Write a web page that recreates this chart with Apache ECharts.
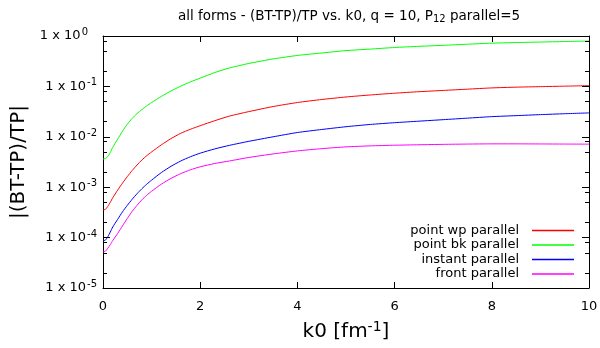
<!DOCTYPE html>
<html><head><meta charset="utf-8">
<script src="https://cdn.jsdelivr.net/npm/echarts@6/dist/echarts.min.js"></script>
<style>html,body{margin:0;padding:0;background:#fff}#c{width:600px;height:348px}</style>
</head><body><div id="c"></div>
<script>
// k0 sample positions and log10 of |(BT-TP)/TP|
const k0 = [0, 0.05, 0.1, 0.15, 0.2, 0.3, 0.4, 0.5, 0.6, 0.7, 0.8, 0.9, 1.0, 1.2, 1.4, 1.6, 1.8, 2.0, 2.3, 2.6, 3.0, 3.5, 4.0, 4.5, 5.0, 5.5, 6.0, 6.5, 7.0, 7.5, 8.0, 8.5, 9.0, 9.5, 10];
const pointWpLog10 = [-3.45, -3.44, -3.38, -3.30, -3.21, -3.06, -2.92, -2.79, -2.67, -2.56, -2.46, -2.375, -2.30, -2.16, -2.035, -1.93, -1.85, -1.78, -1.68, -1.59, -1.50, -1.40, -1.32, -1.26, -1.21, -1.17, -1.135, -1.105, -1.08, -1.055, -1.03, -1.015, -1.005, -0.995, -0.985];
const pointBkLog10 = [-2.44, -2.43, -2.39, -2.31, -2.21, -2.05, -1.89, -1.75, -1.635, -1.54, -1.46, -1.385, -1.32, -1.20, -1.09, -0.995, -0.91, -0.835, -0.725, -0.635, -0.545, -0.455, -0.386, -0.337, -0.29, -0.26, -0.228, -0.205, -0.185, -0.163, -0.142, -0.13, -0.12, -0.11, -0.10];
const instantLog10 = [-4.06, -4.05, -3.98, -3.89, -3.79, -3.64, -3.49, -3.36, -3.24, -3.13, -3.03, -2.94, -2.86, -2.71, -2.585, -2.48, -2.395, -2.325, -2.24, -2.17, -2.09, -2.0, -1.915, -1.855, -1.80, -1.755, -1.72, -1.69, -1.66, -1.63, -1.60, -1.58, -1.56, -1.542, -1.526];
const frontLog10 = [-4.28, -4.27, -4.21, -4.14, -4.06, -3.92, -3.77, -3.62, -3.48, -3.36, -3.25, -3.16, -3.08, -2.94, -2.825, -2.73, -2.655, -2.595, -2.53, -2.48, -2.41, -2.34, -2.28, -2.235, -2.20, -2.18, -2.167, -2.158, -2.15, -2.144, -2.14, -2.14, -2.142, -2.144, -2.146];
const seriesNames = ['point wp parallel', 'point bk parallel', 'instant parallel', 'front parallel'];
const seriesColors = ['#ff0000', '#00ff00', '#0000ff', '#ff00ff'];
const xTicks = [0, 2, 4, 6, 8, 10];
const yMajor = [1e-5, 1e-4, 1e-3, 1e-2, 1e-1, 1];
const yMinor = [2e-5, 5e-5, 8e-5, 2e-4, 5e-4, 8e-4, 2e-3, 5e-3, 8e-3, 2e-2, 5e-2, 8e-2, 2e-1, 5e-1, 8e-1];

const FONT = 'DejaVu Sans';
const BLACK = '#000';
const X_MIN = 0, X_MAX = 10, Y_MIN = 1e-5, Y_MAX = 1;
// tick lengths expressed in data units (about 7px / 4px horizontally, 6px vertically)
const MAJOR_DX = 0.144, MINOR_DX = 0.082, X_TICK_FACTOR = 1.315;
const chart = echarts.init(document.getElementById('c'), null, {renderer: 'canvas'});
const allLog = [pointWpLog10, pointBkLog10, instantLog10, frontLog10];

const tickSegments = [];
function addYTicks(vals, dx) {
  vals.forEach(function (v) {
    tickSegments.push([{coord: [X_MIN, v]}, {coord: [X_MIN + dx, v]}]);
    tickSegments.push([{coord: [X_MAX, v]}, {coord: [X_MAX - dx, v]}]);
  });
}
addYTicks(yMajor, MAJOR_DX);
addYTicks(yMinor, MINOR_DX);
xTicks.forEach(function (x) {
  tickSegments.push([{coord: [x, Y_MIN]}, {coord: [x, Y_MIN * X_TICK_FACTOR]}]);
  tickSegments.push([{coord: [x, Y_MAX]}, {coord: [x, Y_MAX / X_TICK_FACTOR]}]);
});

const supRich = {
  sup: {fontFamily: FONT, fontSize: 10, color: BLACK, verticalAlign: 'top', padding: [0, 0, 7, 1]},
  sup0: {fontFamily: FONT, fontSize: 10, color: BLACK, verticalAlign: 'top', padding: [0, 9, 7, 1]}
};
const frame = {show: true, onZero: false, lineStyle: {color: BLACK, width: 1}};

const lineSeries = allLog.map(function (logs, i) {
  return {
    name: seriesNames[i], type: 'line', xAxisIndex: 0, yAxisIndex: 0,
    data: k0.map(function (k, j) { return [k, Math.pow(10, logs[j])]; }),
    showSymbol: false, symbol: 'none', smooth: 0.2,
    lineStyle: {color: seriesColors[i], width: 1}, itemStyle: {color: seriesColors[i]}, z: 3
  };
});

const tickCarrier = {
  name: 'ticks', type: 'line', xAxisIndex: 0, yAxisIndex: 0,
  data: [[X_MIN, Y_MIN]], showSymbol: false, symbol: 'none', silent: true,
  lineStyle: {opacity: 0}, z: 5,
  markLine: {
    silent: true, animation: false, symbol: ['none', 'none'], precision: 10,
    label: {show: false},
    lineStyle: {color: BLACK, width: 1, type: 'solid', opacity: 1},
    emphasis: {disabled: true},
    data: tickSegments
  }
};

const option = {
  animation: false,
  backgroundColor: '#fff',
  textStyle: {fontFamily: FONT},
  title: {
    text: 'all forms - (BT-TP)/TP vs. k0, q = 10, P{sub|12} parallel=5',
    left: 344, top: 3, textAlign: 'center',
    textStyle: {fontFamily: FONT, fontSize: 13.5, fontWeight: 'normal', color: BLACK,
      rich: {sub: {fontFamily: FONT, fontSize: 10, color: BLACK, verticalAlign: 'bottom', padding: [6, 0, 0, 0]}}}
  },
  legend: {
    orient: 'vertical', right: 21, top: 219, align: 'right',
    itemWidth: 42, itemHeight: 1.5, itemGap: 1.5, icon: 'rect',
    textStyle: {fontFamily: FONT, fontSize: 13, color: BLACK, lineHeight: 13, padding: [0, 8, 0, 0]},
    data: seriesNames
  },
  grid: {left: 103, right: 11, top: 36, bottom: 60, outerBoundsMode: 'none', containLabel: false},
  xAxis: [
    {type: 'value', min: X_MIN, max: X_MAX, interval: 2, position: 'bottom',
      axisLine: frame, axisTick: {show: false}, splitLine: {show: false},
      axisLabel: {show: true, margin: 12, fontFamily: FONT, fontSize: 13, color: BLACK, customValues: xTicks},
      name: 'k0 [fm{sup|-1}]', nameLocation: 'middle', nameGap: 32,
      nameTextStyle: {fontFamily: FONT, fontSize: 20, color: BLACK,
        rich: {sup: {fontFamily: FONT, fontSize: 14, color: BLACK, verticalAlign: 'top', padding: [0, 0, 9, 0]}}}
    },
    {type: 'value', min: X_MIN, max: X_MAX, interval: 2, position: 'top',
      axisLine: frame, axisTick: {show: false}, axisLabel: {show: false}, splitLine: {show: false}}
  ],
  yAxis: [
    {type: 'log', logBase: 10, min: Y_MIN, max: Y_MAX, position: 'left',
      axisLine: frame, axisTick: {show: false}, splitLine: {show: false},
      axisLabel: {show: true, margin: 6, fontFamily: FONT, fontSize: 13, color: BLACK, customValues: yMajor,
        formatter: function (v) { var e = Math.round(Math.log10(v)); return '1 x 10{' + (e === 0 ? 'sup0' : 'sup') + '|' + e + '}'; },
        rich: supRich},
      name: '|(BT-TP)/TP|', nameLocation: 'middle', nameGap: 70, nameRotate: 90,
      nameTextStyle: {fontFamily: FONT, fontSize: 20, color: BLACK}
    },
    {type: 'log', logBase: 10, min: Y_MIN, max: Y_MAX, position: 'right',
      axisLine: frame, axisTick: {show: false}, axisLabel: {show: false}, splitLine: {show: false}}
  ],
  series: lineSeries.concat([tickCarrier])
};
chart.setOption(option);
</script>
</body></html>
